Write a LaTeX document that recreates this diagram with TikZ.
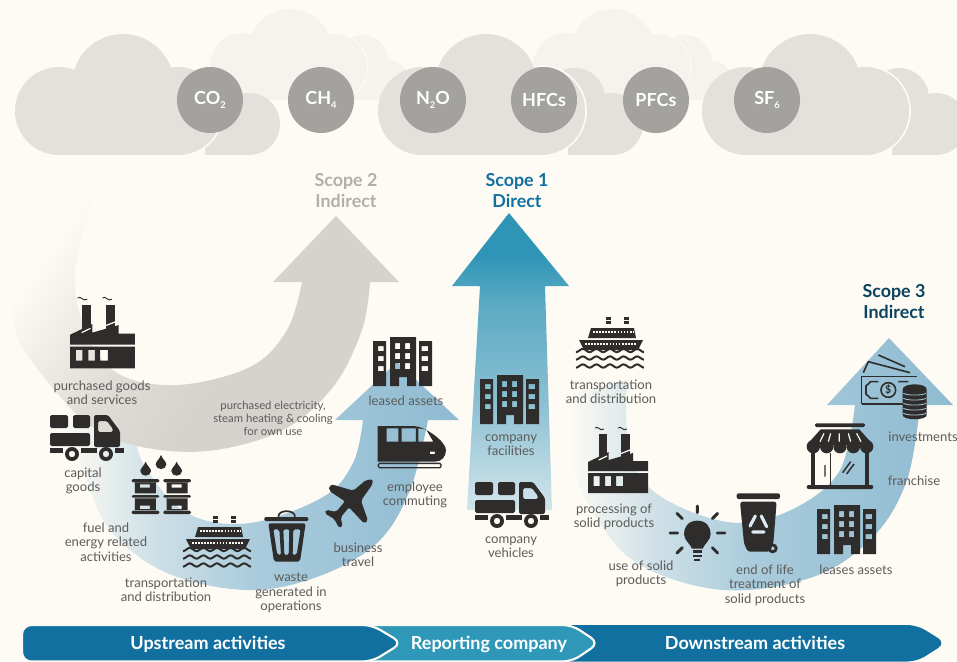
\documentclass[tikz,border=0pt]{standalone}
\usepackage{fontspec}
\setmainfont{Lato}
\definecolor{bgc}{HTML}{FEFBF4}
\definecolor{cloudA}{HTML}{E3E1DB}
\definecolor{cloudB}{HTML}{F5F3ED}
\definecolor{gas}{HTML}{A3A29E}
\definecolor{icon}{HTML}{2E2D2B}
\definecolor{lab}{HTML}{5C5C5A}
\definecolor{sgrey}{HTML}{D6D3CE}
\definecolor{bluea}{HTML}{A9CBDC}
\definecolor{blueb}{HTML}{8FBBD1}
\definecolor{barA}{HTML}{11709F}
\definecolor{barB}{HTML}{2F97B8}
\definecolor{sa}{HTML}{D3E5EB}
\definecolor{sb}{HTML}{8CC0D3}
\definecolor{sc}{HTML}{5AA9C3}
\definecolor{sd}{HTML}{2E95B6}
\pgfdeclarehorizontalshading{greyfade}{100bp}{color(0bp)=(bgc);color(24bp)=(bgc);color(43bp)=(sgrey!75!bgc);color(56bp)=(sgrey);color(100bp)=(sgrey)}
\pgfdeclarehorizontalshading{bluefade}{100bp}{color(0bp)=(bgc);color(26bp)=(bgc);color(37bp)=(bluea!55!bgc);color(50bp)=(bluea);color(75bp)=(blueb);color(100bp)=(blueb)}
\pgfdeclareverticalshading{scopeone}{100bp}{color(0bp)=(sa);color(25bp)=(sa);color(43bp)=(sb);color(60bp)=(sc);color(68bp)=(sd);color(100bp)=(sd)}
\tikzset{
  lbl/.style={inner sep=0pt,align=center,text=lab,font=\fontsize{9.8}{10.8}\selectfont},
  lblsmall/.style={inner sep=0pt,align=center,text=lab,font=\fontsize{8.5}{9.8}\selectfont},
  scopet/.style={inner sep=0pt,align=center,font=\fontsize{13.4}{15.8}\selectfont\bfseries},
  bartext/.style={inner sep=0pt,anchor=base,text=white,font=\fontsize{13.5}{15}\selectfont\bfseries},
  gasc/.style={circle,minimum size=49.5pt,inner sep=0pt,fill=gas,text=white,font=\fontsize{13.5}{15}\selectfont\bfseries},
  ic/.style={fill=icon,draw=none},
  z3/.style={shift={(0,330)},scale=0.33333},
  z4/.style={shift={(480,330)},scale=0.33333},
}
\newcommand{\subg}[1]{\raisebox{-3pt}{\fontsize{7}{8}\selectfont #1}}
\newcommand{\bigcloud}[1]{%
 \begin{scope}[shift={(#1,0)}]
  \fill[cloudA] (212,98) circle[radius=30];
  \fill[cloudA] (249,124) circle[radius=31];
  \fill[cloudA] (205,110) rectangle (249,155);
  \draw[bgc,line width=1.3pt] (178,111) circle[radius=45];
  \fill[cloudA] (59,111) circle[radius=44];
  \fill[cloudA] (178,111) circle[radius=44];
  \fill[cloudA] (123,85) circle[radius=51];
  \fill[cloudA] (59,111) rectangle (178,155);
 \end{scope}}
\newcommand{\lightcloud}[1]{%
 \begin{scope}[shift={(#1,0)}]
  \fill[cloudB] (362,62) circle[radius=27];
  \fill[cloudB] (388,80) circle[radius=20];
  \fill[cloudB] (340,80) rectangle (388,100);
  \draw[bgc,line width=.9pt] (334,67) circle[radius=33.8];
  \fill[cloudB] (243,66) circle[radius=33];
  \fill[cloudB] (290,51) circle[radius=42];
  \fill[cloudB] (334,67) circle[radius=33];
  \fill[cloudB] (243,67) rectangle (334,100);
 \end{scope}}
\newcommand{\factory}[3]{%
 \begin{scope}[shift={(#1,#2)},scale=#3]
  \fill[ic] (10.7,7) rectangle (19,36);
  \fill[ic] (33,7) rectangle (42,30);
  \fill[ic] (0,35) -- (20.7,25) -- (20.7,33) -- (45,26) -- (45,34) -- (60,34) -- (60,44) -- (0,44) -- cycle;
  \fill[ic,even odd rule] (0,46) rectangle (60,66) (5.5,49) rectangle (11.5,59) (17,49) rectangle (23,59) (28,49) rectangle (35,59);
  \draw[icon,line width=.7pt] (7,1) .. controls (10,-2) and (12,5) .. (16,2);
  \draw[icon,line width=.7pt] (30,1) .. controls (33,-2) and (35,5) .. (39,2);
  \draw[bgc,line width=.9pt] (10.7,33) -- (19,29) (33,26.5) -- (42,23);
 \end{scope}}
\newcommand{\truck}[3]{%
 \begin{scope}[shift={(#1,#2)},scale=#3]
  \fill[ic,rounded corners=1.2pt] (0,0) rectangle (18,13);
  \fill[ic,rounded corners=1.2pt] (23,0) rectangle (40,13);
  \fill[ic,rounded corners=1.2pt] (0,18) rectangle (40,31);
  \fill[ic,even odd rule,rounded corners=1.2pt] (44,0) -- (58,0) -- (70,16) -- (70,32) -- (44,32) -- cycle (48,6) -- (57,6) -- (63,14) -- (63,17) -- (48,17) -- cycle;
  \fill[ic] (0,33) rectangle (13,38);
  \fill[ic] (31,33) rectangle (47,38);
  \fill[ic] (65,33) rectangle (74,38);
  \fill[ic,even odd rule] (22,39) circle[radius=7] (22,39) circle[radius=3.3];
  \fill[ic,even odd rule] (56,39) circle[radius=7] (56,39) circle[radius=3.3];
 \end{scope}}
\newcommand{\building}[2]{%
 \begin{scope}[shift={(#1,#2)}]
  \fill[ic,even odd rule] (17,0) -- (43,0) -- (43,49) -- (34,49) -- (34,40) -- (26,40) -- (26,49) -- (17,49) -- cycle
   (22,6) rectangle (27,12) (32,6) rectangle (37,12) (22,16) rectangle (27,22) (32,16) rectangle (37,22) (22,26) rectangle (27,32) (32,26) rectangle (37,32);
  \fill[ic,even odd rule] (0,4) rectangle (13,49) (5,9) rectangle (10.5,14) (5,19) rectangle (10.5,24) (5,29) rectangle (10.5,34);
  \fill[ic,even odd rule] (46,4) rectangle (59,49) (48.5,9) rectangle (55,14) (48.5,19) rectangle (55,24) (48.5,29) rectangle (55,34);
 \end{scope}}
\newcommand{\ship}[2]{%
 \begin{scope}[shift={(#1,#2)}]
  \fill[ic] (30,0) rectangle (35,2.5);
  \fill[ic] (30,4) rectangle (35,7);
  \fill[ic] (48,0) rectangle (53,2.5);
  \fill[ic] (48,4) rectangle (53,7);
  \fill[ic] (15,11) -- (58,11) -- (60,21) -- (12,21) -- cycle;
  \draw[bgc,line width=1.5pt,dash pattern=on 1.3pt off 1pt] (17,15) -- (57,15);
  \fill[ic] (3,23) -- (67,23) -- (62,33) -- (8,33) -- cycle;
  \draw[bgc,line width=1.5pt,dash pattern=on 1.3pt off 1pt] (9,27) -- (60,27);
  \foreach \yy in {33.5,41,49}
   \draw[icon,line width=1.5pt] plot[domain=0:68,samples=50,smooth] (\x,{\yy+1.6*sin(\x/13.6*360+90)});
 \end{scope}}
\begin{document}
\begin{tikzpicture}[x=0.75pt,y=-0.75pt]
\useasboundingbox (0,0) rectangle (957,661);
\fill[bgc] (0,0) rectangle (957,661);
\begin{scope}
\clip (0,0) rectangle (957,661);
% clouds
\lightcloud{0}
\lightcloud{323}
\bigcloud{0}
\bigcloud{363}
\bigcloud{687}
\end{scope}
% gas circles
\node[gasc] (co2) at (210,100) {CO\subg{2}};
\node[gasc] (ch4) at (321,100) {CH\subg{4}};
\node[gasc] (n2o) at (433,100) {N\subg{2}O};
\node[gasc] (hfc) at (544,100) {HFCs};
\node[gasc] (pfc) at (656,100) {PFCs};
\node[gasc] (sf6) at (767,100) {SF\subg{6}};
% blue upstream arrow
\path[shading=bluefade] plot[smooth,tension=.6] coordinates {(55,400) (83,470) (110,530) (167,573) (247,590) (317,577) (377,543) (410,490) (428,420)}
  -- (459,420) -- (397,362) -- (335,420) -- (363,420)
  -- plot[smooth,tension=.6] coordinates {(363,420) (353,463) (323,497) (250,523) (187,513) (143,463) (133,420)} -- cycle;
% grey arrow
\path[shading=greyfade,shading angle=-35] plot[smooth,tension=.6] coordinates {(93,200) (43,240) (15,300) (15,330) (33,363) (83,420) (133,445) (207,451) (283,430) (333,387) (362,330) (370,282)}
  -- (399,282) -- (336,216) -- (273,282) -- (302,282)
  -- plot[smooth,tension=.6] coordinates {(302,282) (287,330) (250,367) (177,385) (117,373) (85,330) (75,270) (93,200)} -- cycle;
% scope 1 arrow
\path[shading=scopeone] (509,213) -- (569,286) -- (545,286) -- (552,510) -- (467,510) -- (480,286) -- (452,286) -- cycle;
% downstream arrow
\path[shading=bluefade] plot[smooth,tension=.6] coordinates {(565,395) (563,437) (590,507) (637,563) (723,590) (813,577) (873,537) (907,480) (920,405)}
  -- (953,405) -- (889,338) -- (827,405) -- (855,405)
  -- plot[smooth,tension=.6] coordinates {(855,405) (840,470) (797,507) (740,523) (680,507) (640,477) (627,430) (627,380)} -- cycle;
% scope titles
\node[scopet,text=gas!85!bgc] (s2) at (346,191) {Scope 2\\Indirect};
\node[scopet,text=barA] (s1) at (517,191) {Scope 1\\Direct};
\node[scopet,text=barA!60!black] (s3) at (894,302) {Scope 3\\Indirect};
% icons
\factory{70}{297}{1.08}
\truck{50}{415}{1}
\building{373}{337}
\building{480}{375}
\building{817}{505}
\truck{475}{482}{1}
\ship{183}{516}
\ship{576}{317}
\factory{588}{427}{1}
% drums
\begin{scope}[z3]
 \foreach \dx in {0,95}{
  \fill[ic,rounded corners=1pt] (395+\dx,447) rectangle (478+\dx,457);
  \fill[ic,rounded corners=1pt] (395+\dx,495) rectangle (478+\dx,503);
  \fill[ic,rounded corners=1pt] (395+\dx,542) rectangle (478+\dx,552);
  \fill[ic,even odd rule] (405+\dx,457) rectangle (468+\dx,490) (420+\dx,463) rectangle (450+\dx,473);
  \fill[ic,even odd rule] (405+\dx,505) rectangle (468+\dx,540) (420+\dx,527) rectangle (450+\dx,537);
 }
 \foreach \xx/\tt in {437/395,483/375,530/395}
  \fill[ic] (\xx,\tt) .. controls (\xx+4,\tt+12) and (\xx+16,\tt+20) .. (\xx+16,\tt+28) .. controls (\xx+16,\tt+37) and (\xx+8,\tt+42) .. (\xx,\tt+42) .. controls (\xx-8,\tt+42) and (\xx-16,\tt+37) .. (\xx-16,\tt+28) .. controls (\xx-16,\tt+20) and (\xx-4,\tt+12) .. (\xx,\tt) -- cycle;
 % trash
 \fill[ic,rounded corners=1pt] (793,561) rectangle (925,573);
 \draw[icon,line width=1.3pt] (835,560) .. controls (835,538) and (885,538) .. (885,560);
 \fill[ic,even odd rule,rounded corners=1.5pt] (805,580) -- (917,580) -- (900,695) -- (822,695) -- cycle
   (820,598) -- (838,598) -- (843,675) -- (832,675) -- cycle
   (850,598) -- (868,598) -- (866,675) -- (853,675) -- cycle
   (880,598) -- (902,598) -- (890,675) -- (878,675) -- cycle;
 % plane
 \fill[ic,rounded corners=1.5pt] (1118,448) -- (1118,462) -- (1083,512) -- (1104,572) -- (1093,581) -- (1047,532) -- (1022,562) -- (1028,590) -- (1017,594) -- (1003,567) -- (974,550) -- (978,539) -- (1008,546) -- (1035,514) -- (987,482) -- (988,467) -- (998,464) -- (1060,482) -- (1098,450) -- cycle;
 % train
 \fill[ic,even odd rule] (1133,288) -- (1240,288) .. controls (1275,288) and (1338,335) .. (1338,360) .. controls (1338,380) and (1325,395) .. (1305,395) -- (1133,395) -- cycle
   (1160,295) rectangle (1195,335) (1205,295) rectangle (1248,335) (1255,295) -- (1278,298) -- (1300,335) -- (1255,335) -- cycle (1290,365) rectangle (1305,372);
 \draw[icon,line width=1pt,rounded corners=1pt] (1135,400) rectangle (1323,413);
\end{scope}
\begin{scope}[z4]
 % bulb
 \fill[ic] (652,572) .. controls (680,572) and (692,592) .. (692,612) .. controls (692,632) and (672,642) .. (668,656) -- (636,656) .. controls (632,642) and (612,632) .. (612,612) .. controls (612,592) and (624,572) .. (652,572) -- cycle;
 \fill[ic] (638,660) rectangle (667,668);
 \fill[ic] (638,674) rectangle (667,682);
 \fill[ic] (643,686) rectangle (660,693);
 \draw[icon,line width=2.2pt,line cap=round] (652,528) -- (652,548) (591,550) -- (607,566) (713,550) -- (697,566) (570,609) -- (593,609) (712,609) -- (735,609) (591,669) -- (607,653) (713,669) -- (697,653);
 % bin
 \fill[ic,rounded corners=1.5pt] (770,490) rectangle (900,507);
 \fill[ic,rounded corners=2pt] (780,515) -- (890,515) -- (880,640) -- (870,665) -- (803,665) -- (792,640) -- cycle;
 \fill[ic,even odd rule] (878,655) circle[radius=15] (878,655) circle[radius=6];
 \draw[bluea!40!white,line width=2.4pt,line cap=round] (826,558) -- (810,588) (818,606) -- (852,606) (860,590) -- (844,558);
 % shop
 \fill[ic,rounded corners=1pt] (1005,280) rectangle (1155,291);
 \fill[ic] (1022,298) -- (1138,298) -- (1180,345) -- (980,345) -- cycle;
 \foreach \xx in {1000,1040,1080,1120,1160} \fill[ic] (\xx,350) circle[radius=20];
 \draw[bgc,line width=.9pt] (1020,335) -- (1032,310) (1045,335) -- (1052,310) (1078,335) -- (1078,310) (1105,310) -- (1112,335) (1130,310) -- (1143,335);
 \fill[ic] (993,350) rectangle (1005,468);
 \fill[ic] (1155,350) rectangle (1167,468);
 \fill[ic] (1050,370) rectangle (1054,468);
 \fill[ic,rounded corners=1.5pt] (980,465) rectangle (1180,477);
 \draw[icon,line width=1.1pt] (1035,405) -- (1035,440) (1088,428) -- (1112,395) (1100,432) -- (1122,402);
 % money
 \draw[icon,line width=1.2pt] (1145,222) -- (1145,140) -- (1312,140) (1145,222) -- (1272,222);
 \draw[icon,line width=1.2pt] (1195,155) -- (1172,155) -- (1158,168) -- (1158,192) -- (1172,205) -- (1195,205) (1255,155) -- (1285,155);
 \draw[icon,line width=1.2pt] (1225,180) circle[radius=22];
 \node[inner sep=0pt,text=icon,font=\fontsize{8}{9}\selectfont\bfseries] (dollar) at (1225,180) {\$};
 \draw[icon,line width=1.2pt] (1150,128) -- (1165,95) -- (1290,128) (1195,75) -- (1275,110);
 \fill[ic] (1268,178) .. controls (1268,158) and (1340,158) .. (1340,178) -- (1340,255) .. controls (1340,272) and (1268,272) .. (1268,255) -- cycle;
 \foreach \yy in {190,205,220,235,250}
  \draw[bluea,line width=.6pt] (1270,\yy) .. controls (1285,\yy+7) and (1323,\yy+7) .. (1338,\yy);
\end{scope}
% labels
\node[lbl] (l1) at (102,393) {purchased goods\\and services};
\node[lbl] (l2) at (83,481) {capital\\goods};
\node[lbl] (l3) at (106,542) {fuel and\\energy related\\activities};
\node[lbl] (l4) at (166,590) {transportation\\and distribution};
\node[lbl] (l5) at (291,593) {waste\\generated in\\operations};
\node[lbl] (l6) at (358,555) {business\\travel};
\node[lbl] (l7) at (415,495) {employee\\commuting};
\node[lbl] (l8) at (406,401) {leased assets};
\node[lblsmall] (l9) at (273,418) {purchased electricity,\\steam heating \& cooling\\for own use};
\node[lbl] (l10) at (511,445) {company\\facilities};
\node[lbl] (l11) at (511,547) {company\\vehicles};
\node[lbl] (l12) at (611,392) {transportation\\and distribution};
\node[lbl] (l13) at (614,517) {processing of\\solid products};
\node[lbl] (l14) at (641,574) {use of solid\\products};
\node[lbl] (l15) at (765,585) {end of life\\treatment of\\solid products};
\node[lbl] (l16) at (856,570) {leases assets};
\node[lbl] (l17) at (914,481) {franchise};
\node[lbl] (l18) at (923,437) {investments};
% bottom bar
\begin{scope}
\clip (0,620) rectangle (957,661);
\fill[barA,rounded corners=7pt] (560,625) -- (917,625) -- (946,643) -- (917,661.5) -- (560,661.5) -- cycle;
\draw[bgc,line width=1.6pt,fill=barB,rounded corners=7pt] (360,625) -- (572,625) -- (599,643) -- (572,661.5) -- (360,661.5) -- cycle;
\draw[bgc,line width=1.6pt,fill=barA,rounded corners=7pt] (22,625) -- (372,625) -- (402,643) -- (372,661.5) -- (22,661.5) -- cycle;
\end{scope}
\node[bartext] (b1) at (208,649) {Upstream activities};
\node[bartext] (b2) at (489,649) {Reporting company};
\node[bartext] (b3) at (755,649) {Downstream activities};
\end{tikzpicture}
\end{document}
